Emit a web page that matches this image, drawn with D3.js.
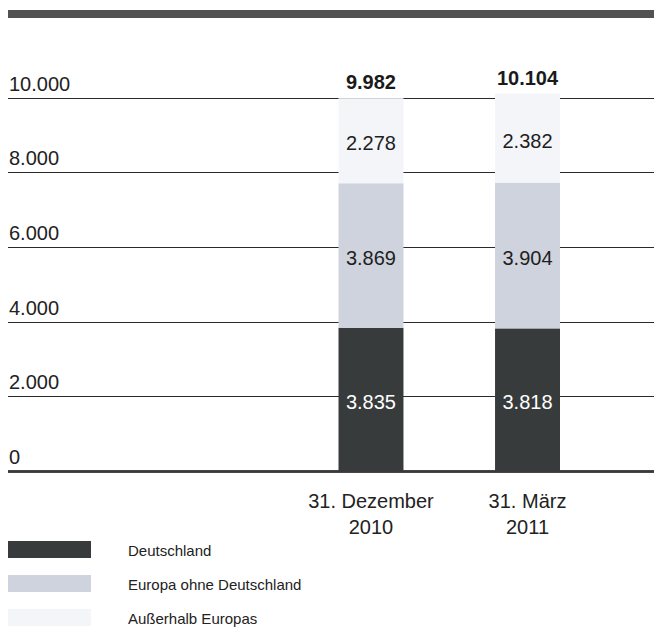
<!DOCTYPE html>
<html>
<head>
<meta charset="utf-8">
<script src="https://cdn.jsdelivr.net/npm/d3@7"></script>
<style>
  html, body { margin: 0; padding: 0; background: #ffffff; }
  svg { display: block; }
  text { font-family: "Liberation Sans", Arial, sans-serif; }
</style>
</head>
<body>
<svg id="chart" width="654" height="628"></svg>
<script>
const categories = ["31. Dezember|2010", "31. März|2011"];
const deutschland = [3835, 3818];
const europaOhneDE = [3869, 3904];
const ausserhalb = [2278, 2382];
const totals = [9982, 10104];
const yTicks = [0, 2000, 4000, 6000, 8000, 10000];
const seriesNames = ["Deutschland", "Europa ohne Deutschland", "Außerhalb Europas"];
const seriesColors = ["#383b3c", "#ced3dd", "#f4f5f9"];
const labelColors = ["#ffffff", "#1e1e1e", "#1e1e1e"];

const fmt = v => d3.format(",")(v).replace(/,/g, ".");

const svg = d3.select("#chart");

// top decorative bar
svg.append("rect").attr("x", 8).attr("y", 10).attr("width", 646).attr("height", 8).attr("fill", "#525252");

const y = d3.scaleLinear().domain([0, 10000]).range([471, 97.5]);
const x = d3.scaleBand().domain(categories).range([338.5, 560]).paddingInner(0.585).paddingOuter(0);

// gridlines
const grid = svg.append("g");
grid.selectAll("line").data(yTicks).join("line")
  .attr("x1", 8).attr("x2", 654)
  .attr("y1", d => Math.round(y(d)) + 0.5).attr("y2", d => Math.round(y(d)) + 0.5)
  .attr("stroke", d => d === 0 ? "#3a3a3a" : "#2a2a2a")
  .attr("stroke-width", d => d === 0 ? 2.5 : 1);
grid.selectAll("text").data(yTicks).join("text")
  .attr("x", 9).attr("y", d => y(d) - 7)
  .attr("font-size", 20).attr("fill", "#222")
  .text(d => fmt(d));

// stacked data
const rows = categories.map((c, i) => ({ cat: c, s0: deutschland[i], s1: europaOhneDE[i], s2: ausserhalb[i] }));
const stack = d3.stack().keys(["s0", "s1", "s2"])(rows);

const bars = svg.append("g");
stack.forEach((layer, li) => {
  const g = bars.append("g");
  g.selectAll("rect").data(layer).join("rect")
    .attr("x", d => x(d.data.cat))
    .attr("width", x.bandwidth())
    .attr("y", d => y(d[1]))
    .attr("height", d => y(d[0]) - y(d[1]))
    .attr("fill", seriesColors[li]);
  g.selectAll("text").data(layer).join("text")
    .attr("x", d => x(d.data.cat) + x.bandwidth() / 2)
    .attr("y", d => (y(d[0]) + y(d[1])) / 2 + 2.5)
    .attr("text-anchor", "middle")
    .attr("dominant-baseline", "central")
    .attr("font-size", 20)
    .attr("fill", labelColors[li])
    .text(d => fmt(d[1] - d[0]));
});

// baseline redrawn over bars
svg.append("line").attr("x1", 8).attr("x2", 654)
  .attr("y1", Math.round(y(0)) + 0.5).attr("y2", Math.round(y(0)) + 0.5)
  .attr("stroke", "#3a3a3a").attr("stroke-width", 2.5);

// totals
svg.append("g").selectAll("text").data(categories).join("text")
  .attr("x", c => x(c) + x.bandwidth() / 2)
  .attr("y", (c, i) => y(totals[i]) - 9)
  .attr("text-anchor", "middle")
  .attr("font-size", 20).attr("font-weight", "bold").attr("fill", "#1a1a1a")
  .text((c, i) => fmt(totals[i]));

// x axis labels
const xl = svg.append("g").selectAll("text").data(categories).join("text")
  .attr("x", c => x(c) + x.bandwidth() / 2)
  .attr("text-anchor", "middle")
  .attr("font-size", 20).attr("fill", "#222");
xl.each(function(c) {
  const parts = c.split("|");
  const t = d3.select(this);
  parts.forEach((p, k) => {
    t.append("tspan").attr("x", x(c) + x.bandwidth() / 2)
      .attr("y", y(0) + 37 + k * 26).text(p);
  });
});

// legend
const lg = svg.append("g");
seriesNames.forEach((n, i) => {
  const by = 556 + i * 34;
  lg.append("rect").attr("x", 8).attr("y", by - 15).attr("width", 83).attr("height", 17).attr("fill", seriesColors[i]);
  lg.append("text").attr("x", 128).attr("y", by).attr("font-size", 15).attr("fill", "#222").text(n);
});
</script>
</body>
</html>
